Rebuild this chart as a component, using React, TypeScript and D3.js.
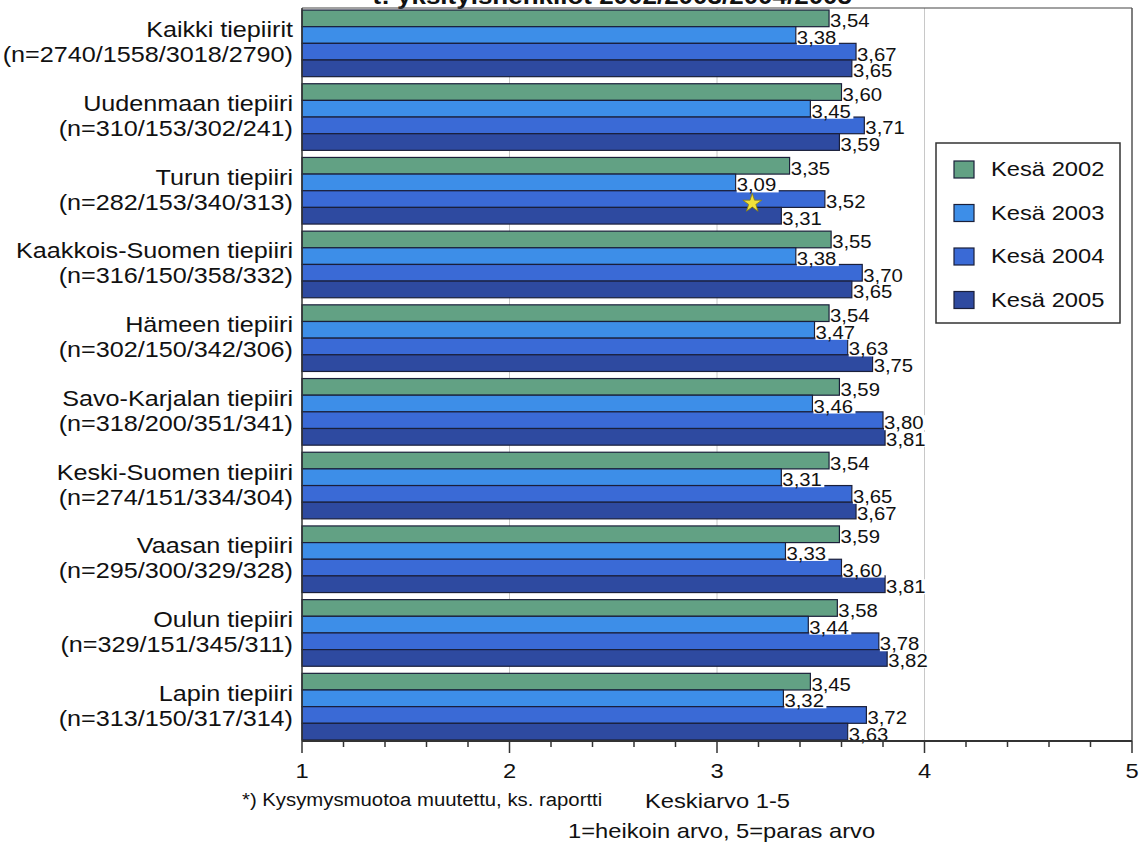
import React from "react";
import * as d3 from "d3";

const categories = [
  "Kaikki tiepiirit",
  "Uudenmaan tiepiiri",
  "Turun tiepiiri",
  "Kaakkois-Suomen tiepiiri",
  "Hämeen tiepiiri",
  "Savo-Karjalan tiepiiri",
  "Keski-Suomen tiepiiri",
  "Vaasan tiepiiri",
  "Oulun tiepiiri",
  "Lapin tiepiiri",
];
const counts = [
  "(n=2740/1558/3018/2790)",
  "(n=310/153/302/241)",
  "(n=282/153/340/313)",
  "(n=316/150/358/332)",
  "(n=302/150/342/306)",
  "(n=318/200/351/341)",
  "(n=274/151/334/304)",
  "(n=295/300/329/328)",
  "(n=329/151/345/311)",
  "(n=313/150/317/314)",
];
const seriesNames = ["Kesä 2002", "Kesä 2003", "Kesä 2004", "Kesä 2005"];
const v2002 = [3.54, 3.6, 3.35, 3.55, 3.54, 3.59, 3.54, 3.59, 3.58, 3.45];
const v2003 = [3.38, 3.45, 3.09, 3.38, 3.47, 3.46, 3.31, 3.33, 3.44, 3.32];
const v2004 = [3.67, 3.71, 3.52, 3.7, 3.63, 3.8, 3.65, 3.6, 3.78, 3.72];
const v2005 = [3.65, 3.59, 3.31, 3.65, 3.75, 3.81, 3.67, 3.81, 3.82, 3.63];
const seriesValues = [v2002, v2003, v2004, v2005];
const colors = ["#62a184", "#3d8ee8", "#3a6ad6", "#2e4aa0"];
const majorTicks = [1, 2, 3, 4, 5];
const starMark = { category: "Turun tiepiiri", series: 2, value: 3.17 };
const titleText = "t: yksityishenkilöt 2002/2003/2004/2005";
const footnote = "*) Kysymysmuotoa muutettu, ks. raportti";
const axisTitle1 = "Keskiarvo 1-5";
const axisTitle2 = "1=heikoin arvo, 5=paras arvo";

const SX = 1.13;
const FONT = "'Liberation Sans', Arial, sans-serif";

function T({ x, y, size, anchor = "start", weight = "normal", children, fill = "#111", sx = SX }: any) {
  return (
    <text
      transform={`translate(${x},${y}) scale(${sx},1)`}
      fontSize={size}
      fontFamily={FONT}
      textAnchor={anchor}
      fontWeight={weight}
      fill={fill}
    >
      {children}
    </text>
  );
}

export default function App() {
  const W = 1147;
  const H = 844;
  const x = d3.scaleLinear().domain([1, 5]).range([302, 1132]);
  const y0 = d3
    .scaleBand<string>()
    .domain(categories)
    .range([6.5, 743.5])
    .paddingInner(0.096)
    .paddingOuter(0.048);
  const y1 = d3
    .scaleBand<number>()
    .domain([0, 1, 2, 3])
    .range([0, y0.bandwidth()]);
  const axisY = 741;
  const minorTicks = d3.range(1, 5.0001, 0.2).map((d) => +d.toFixed(1));
  const fmt = (v: number) => v.toFixed(2).replace(".", ",");
  const star = d3.symbol().type(d3.symbolStar).size(110)();

  return (
    <svg
      width={W}
      height={H}
      style={{ position: "absolute", left: 0, top: 0, background: "#fff" }}
    >
      {/* title (cut off at top) */}
      <T x={852} y={4} size={23} anchor="end" weight="bold">
        {titleText}
      </T>
      {/* gridlines */}
      {majorTicks.slice(1, 4).map((t) => (
        <line key={t} x1={x(t)} x2={x(t)} y1={8} y2={axisY} stroke="#c8c8c8" strokeWidth={1} />
      ))}
      {/* plot frame */}
      <line x1={302} x2={1132} y1={8} y2={8} stroke="#444" strokeWidth={1.2} />
      <line x1={1132} x2={1132} y1={8} y2={axisY} stroke="#555" strokeWidth={1.5} />
      {/* bars */}
      {categories.map((c, ci) => (
        <g key={c} transform={`translate(0,${y0(c)})`}>
          {seriesValues.map((vals, si) => (
            <rect
              key={si}
              x={x(1)}
              y={y1(si)!}
              width={x(vals[ci]) - x(1)}
              height={y1.bandwidth()}
              fill={colors[si]}
              stroke="#1a1f3a"
              strokeWidth={1.2}
            />
          ))}
        </g>
      ))}
      {/* value labels */}
      {categories.map((c, ci) => (
        <g key={c} transform={`translate(0,${y0(c)})`}>
          {seriesValues.map((vals, si) => {
            const xe = x(vals[ci]);
            const yc = y1(si)! + y1.bandwidth() / 2;
            return (
              <g key={si}>
                <rect x={xe + 1} y={yc - 5} width={42} height={15} fill="#fff" />
                <T x={xe + 1} y={yc + 9} size={18}>
                  {fmt(vals[ci])}
                </T>
              </g>
            );
          })}
        </g>
      ))}
      {/* star marker */}
      <path
        d={star!}
        transform={`translate(${x(starMark.value)},${
          y0(starMark.category)! + y1(starMark.series)! + y1.bandwidth() * 0.75
        })`}
        fill="#f2e23a"
        stroke="#8a7d10"
        strokeWidth={0.8}
      />
      {/* left axis line */}
      <line x1={302} x2={302} y1={8} y2={axisY} stroke="#333" strokeWidth={1.5} />
      {/* bottom axis */}
      <line x1={302} x2={1132} y1={axisY} y2={axisY} stroke="#333" strokeWidth={2} />
      {minorTicks.map((t) => {
        const major = Math.abs(t - Math.round(t)) < 1e-6;
        return (
          <line
            key={t}
            x1={x(t)}
            x2={x(t)}
            y1={axisY}
            y2={axisY + (major ? 12 : 6)}
            stroke="#333"
            strokeWidth={1.5}
          />
        );
      })}
      {majorTicks.map((t) => (
        <T key={t} x={x(t)} y={778} size={21} anchor="middle">
          {t}
        </T>
      ))}
      {/* category labels */}
      {categories.map((c, ci) => {
        const yc = y0(c)! + y0.bandwidth() / 2;
        return (
          <g key={c}>
            <T x={293} y={yc - 6} size={22} sx={1.145} anchor="end">
              {c}
            </T>
            <T x={293} y={yc + 19} size={22} sx={1.145} anchor="end">
              {counts[ci]}
            </T>
          </g>
        );
      })}
      {/* legend */}
      <rect x={936} y={143} width={184} height={180} fill="#fff" stroke="#333" strokeWidth={1.5} />
      {seriesNames.map((s, i) => (
        <g key={s}>
          <rect
            x={954}
            y={161 + i * 43.5}
            width={20}
            height={17}
            fill={colors[i]}
            stroke="#1a1f3a"
            strokeWidth={1.2}
          />
          <T x={991} y={176 + i * 43.5} size={21}>
            {s}
          </T>
        </g>
      ))}
      {/* notes */}
      <T x={242} y={806} size={18}>
        {footnote}
      </T>
      <T x={645} y={808} size={21}>
        {axisTitle1}
      </T>
      <T x={568} y={838} size={21}>
        {axisTitle2}
      </T>
    </svg>
  );
}
